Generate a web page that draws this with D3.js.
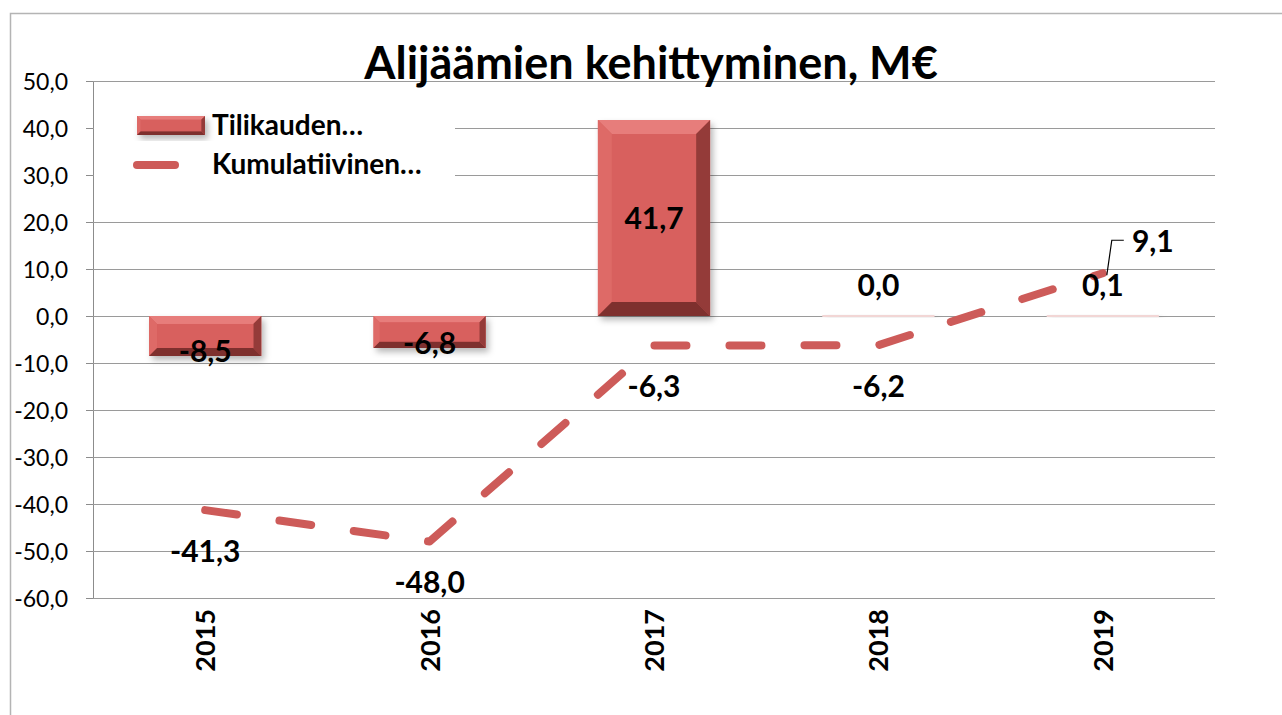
<!DOCTYPE html>
<html>
<head>
<meta charset="utf-8">
<script src="https://cdn.jsdelivr.net/npm/d3@7"></script>
<style>
body{margin:0;background:#fff;}
svg{display:block;font-family:Lato,"Open Sans",sans-serif;}
</style>
</head>
<body>
<svg id="chart" width="1282" height="715"></svg>
<script>
//data -------------------------------
var years=['2015','2016','2017','2018','2019'];
var annual=[-8.5,-6.8,41.7,0.0,0.1];       // Tilikauden...
var cumulative=[-41.3,-48.0,-6.3,-6.2,9.1]; // Kumulatiivinen...
var yTicks=[50,40,30,20,10,0,-10,-20,-30,-40,-50,-60];
var legendNames=['Tilikauden…','Kumulatiivinen…'];
var title='Alijäämien kehittyminen, M€';

var fmt=function(v){return v.toFixed(1).replace('.',',');};

var svg=d3.select('#chart');
var pLeft=93,pRight=1215,pTop=81,pBottom=598;

var x=d3.scaleBand().domain(years).range([pLeft,pRight]).paddingInner(0.5).paddingOuter(0.25);
var y=d3.scaleLinear().domain([-60,50]).range([pBottom,pTop]);

//outer frame
svg.append('path').attr('d','M10.5,720 L10.5,13.5 L1290,13.5')
  .attr('fill','none').attr('stroke','#b4b4b4').attr('stroke-width',1.5);

//shadow filter
var defs=svg.append('defs');
var f=defs.append('filter').attr('id','shadow').attr('x','-20%').attr('y','-20%').attr('width','150%').attr('height','150%');
f.append('feDropShadow').attr('dx',3).attr('dy',4).attr('stdDeviation',3)
  .attr('flood-color','#000').attr('flood-opacity',0.28);

//grid + y axis
var yAxis=d3.axisLeft(y).tickValues(yTicks).tickSize(7).tickFormat(fmt);
var ga=svg.append('g').attr('transform','translate('+pLeft+',0)').call(yAxis);
ga.select('.domain').attr('stroke','#8c8c8c').attr('d','M0.5,'+pTop+'V'+pBottom);
ga.selectAll('.tick line').attr('stroke','#8c8c8c');
ga.selectAll('.tick text').attr('font-size',23).attr('fill','#000')
  .attr('font-family','Lato, sans-serif').attr('x',-25).attr('dy','0.35em');
svg.append('g').selectAll('line').data(yTicks).join('line')
  .attr('x1',pLeft).attr('x2',pRight)
  .attr('y1',d=>Math.round(y(d))+0.5).attr('y2',d=>Math.round(y(d))+0.5)
  .attr('stroke','#9a9a9a').attr('stroke-width',1);

//beveled bar
function bevelBar(g,x0,y0,w,h,bv){
  var x1=x0+w,y1=y0+h;
  var b=Math.min(bv,h/5,w/4);
  g.append('rect').attr('x',x0).attr('y',y0).attr('width',w).attr('height',h)
    .attr('fill','#d8605e').attr('filter','url(#shadow)');
  var poly=function(pts,c){g.append('polygon').attr('points',pts.map(p=>p.join(',')).join(' ')).attr('fill',c);};
  poly([[x0,y0],[x1,y0],[x1-b,y0+b],[x0+b,y0+b]],'#e77d7b');
  poly([[x0,y0],[x0+b,y0+b],[x0+b,y1-b],[x0,y1]],'#de6a67');
  poly([[x1,y0],[x1,y1],[x1-b,y1-b],[x1-b,y0+b]],'#943b39');
  poly([[x0,y1],[x1,y1],[x1-b,y1-b],[x0+b,y1-b]],'#7e302e');
  g.append('rect').attr('x',x0+b).attr('y',y0+b).attr('width',Math.max(0,w-2*b)).attr('height',Math.max(0,h-2*b))
    .attr('fill','#d8605e');
}

//legend background (covers gridlines)
svg.append('rect').attr('x',94).attr('y',106).attr('width',361).attr('height',72).attr('fill','#fff');

//bars
var bars=svg.append('g');
annual.forEach(function(v,i){
  var y0=Math.min(y(v),y(0)),h=Math.abs(y(v)-y(0));
  if(h>=2){
    bevelBar(bars.append('g'),x(years[i]),y0,x.bandwidth(),h,14);
  }else{
    bars.append('rect').attr('x',x(years[i])).attr('y',y(0)-1).attr('width',x.bandwidth()).attr('height',2)
      .attr('fill','#f2d6d5').attr('filter','url(#shadow)');
  }
});

//cumulative line
var line=d3.line().x((d,i)=>x(years[i])+x.bandwidth()/2).y(d=>y(d));
svg.append('path').datum(cumulative).attr('d',line)
  .attr('fill','none').attr('stroke','#cd5b59').attr('stroke-width',8)
  .attr('stroke-linecap','round').attr('stroke-linejoin','round')
  .attr('stroke-dasharray','32,43');

//bar labels
var bl=svg.append('g').attr('font-weight','bold').attr('font-size',30).attr('text-anchor','middle');
annual.forEach(function(v,i){
  var h=Math.abs(y(v)-y(0)),cy;
  if(h>60) cy=(y(v)+y(0))/2;
  else if(v<0) cy=y(v)-5;
  else cy=y(0)-31;
  bl.append('text').attr('x',x(years[i])+x.bandwidth()/2).attr('y',cy).attr('dy','0.36em').text(fmt(v));
});

//line labels
cumulative.forEach(function(v,i){
  var cx=x(years[i])+x.bandwidth()/2;
  if(i==cumulative.length-1){
    svg.append('path').attr('d','M'+(cx+4)+','+(y(v)+2)+' L'+(cx+9)+','+(y(v)-33)+' L'+(cx+21)+','+(y(v)-33))
      .attr('fill','none').attr('stroke','#000').attr('stroke-width',1.2);
    bl.append('text').attr('x',cx+50).attr('y',y(v)-32).attr('dy','0.36em').text(fmt(v));
  }else{
    bl.append('text').attr('x',cx).attr('y',y(v)+41).attr('dy','0.36em').text(fmt(v));
  }
});

//x labels
svg.append('g').selectAll('text').data(years).join('text')
  .attr('transform',d=>'translate('+(x(d)+x.bandwidth()/2+10)+',609) rotate(-90)')
  .attr('text-anchor','end').attr('font-weight','bold').attr('font-size',27).text(d=>d);

//legend
var lg=svg.append('g').attr('font-weight','bold').attr('font-size',28);
bevelBar(lg.append('g'),137,116,68,19,6);
lg.append('line').attr('x1',137).attr('x2',175).attr('y1',165).attr('y2',165)
  .attr('stroke','#cd5b59').attr('stroke-width',8).attr('stroke-linecap','round');
lg.selectAll('text').data(legendNames).join('text')
  .attr('x',212).attr('y',(d,i)=>125+i*39).attr('dy','0.36em').text(d=>d);

//title
svg.append('text').attr('x',651).attr('y',79).attr('text-anchor','middle')
  .attr('font-weight','bold').attr('font-size',45).text(title);
</script>
</body>
</html>
